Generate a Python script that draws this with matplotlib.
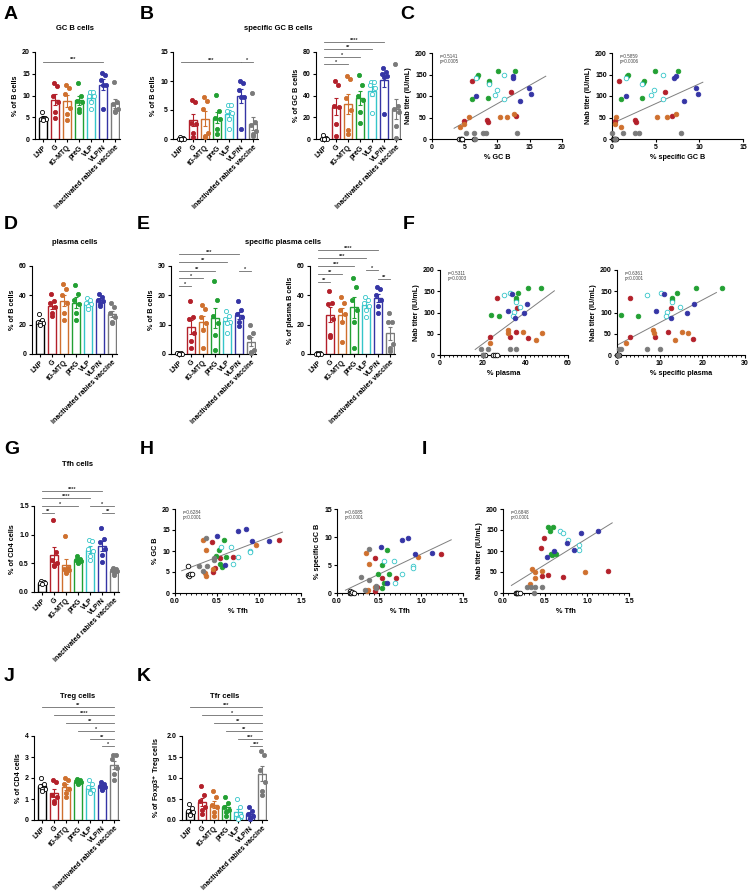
"""
Multi-panel B-cell / T-cell immunology figure (bars + correlations).
"""
import numpy as np
import matplotlib
matplotlib.use("Agg")
import matplotlib.pyplot as plt
from matplotlib.ticker import MultipleLocator, FormatStrFormatter

W, H = 750, 894

GROUPS = ["LNP", "G", "tG-MTQ", "preG", "VLP", "VLP/N", "inactivated rabies vaccine"]
COLORS = ["#000000", "#B3202A", "#CF702E", "#22A033", "#35C5C9", "#3535A5", "#7A7A7A"]
OPEN = [True, False, False, False, True, False, False]

# ── bar-panel data (one list of points per group, order = GROUPS) ──────────────
gcb_pct = [
    [6.3, 4.8, 4.7, 4.6, 4.5, 4.4],
    [12.8, 12.2, 9.8, 8.4, 6.3, 4.8],
    [12.5, 11.8, 10.3, 7.2, 5.8, 4.3],
    [12.8, 10.0, 8.8, 8.6, 6.9, 6.1],
    [10.9, 10.8, 10.0, 9.9, 8.6, 6.8],
    [15.2, 14.8, 13.5, 12.5, 12.3, 6.8],
    [13.1, 8.6, 8.0, 6.8, 6.5, 6.3],
]
sgcb_of_b = [
    [0.4, 0.1, 0.05, 0.0, 0.0, 0.0],
    [6.8, 6.3, 2.7, 2.6, 1.1, 0.3],
    [7.3, 6.5, 5.2, 1.0, 0.5, 0.4],
    [7.6, 4.9, 3.6, 3.4, 1.7, 0.9],
    [5.8, 5.8, 4.8, 4.5, 3.5, 1.8],
    [10.0, 9.7, 8.4, 7.3, 7.2, 1.7],
    [7.9, 2.9, 2.4, 1.3, 0.9, 0.5],
]
sgcb_of_gcb = [
    [4.0, 0.5, 0.3, 0.2, 0.0, 0.0],
    [53, 50, 30, 29, 14, 3],
    [58, 55, 38, 27, 8, 5],
    [59, 50, 40, 36, 25, 15],
    [52, 52, 50, 47, 41, 24],
    [65, 62, 60, 58, 57, 23],
    [69, 30, 28, 25, 12, 1],
]
plasma_pct = [
    [27, 23, 22, 21, 21, 20],
    [41, 36, 35, 32, 28, 26],
    [48, 44, 40, 35, 28, 23],
    [47, 41, 37, 34, 28, 23],
    [38, 37, 35, 34, 33, 31],
    [41, 39, 37, 36, 34, 33],
    [35, 32, 28, 25, 22, 21],
]
splasma_of_b = [
    [0.5, 0.3, 0.2, 0.1, 0.1, 0.0],
    [17.9, 12.6, 12.1, 7.0, 4.5, 2.0],
    [16.6, 15.4, 12.5, 10.5, 8.3, 2.0],
    [24.8, 18.3, 13.0, 10.5, 6.5, 1.2],
    [14.5, 13.0, 12.0, 11.0, 10.5, 7.0],
    [18.0, 15.0, 13.5, 12.5, 11.0, 9.5],
    [9.8, 7.2, 5.8, 1.2, 0.8, 0.5],
]
splasma_of_plasma = [
    [0.8, 0.5, 0.3, 0.2, 0.1, 0.0],
    [43, 35, 34, 24, 13, 11.5],
    [39, 35, 30, 27, 22, 8],
    [52, 46, 37, 30, 22, 4],
    [39, 37, 35, 33, 30, 25],
    [46, 44, 40, 37, 33, 28],
    [28, 22, 22, 7, 4, 2],
]
tfh_pct = [
    [0.19, 0.17, 0.16, 0.15, 0.14],
    [1.25, 0.70, 0.55, 0.50, 0.47, 0.45],
    [0.97, 0.42, 0.40, 0.38, 0.35, 0.33],
    [0.63, 0.58, 0.55, 0.54, 0.52, 0.50],
    [0.90, 0.89, 0.75, 0.72, 0.62, 0.55],
    [1.12, 0.93, 0.88, 0.75, 0.65, 0.52],
    [0.42, 0.40, 0.38, 0.36, 0.33, 0.30],
]
treg_pct = [
    [2.0, 1.7, 1.6, 1.5, 1.5, 1.4],
    [1.9, 1.8, 1.2, 1.1, 0.9, 0.8],
    [2.0, 1.9, 1.7, 1.5, 1.3, 1.1],
    [1.95, 1.9, 1.85, 1.8, 1.75, 1.7],
    [1.9, 1.7, 1.55, 1.45, 1.35, 1.3],
    [1.8, 1.7, 1.6, 1.55, 1.5, 1.45],
    [3.1, 3.1, 2.9, 2.5, 2.2, 1.9],
]
tfr_pct = [
    [0.38, 0.28, 0.22, 0.18, 0.15, 0.12],
    [0.8, 0.6, 0.45, 0.3, 0.25, 0.15],
    [0.7, 0.55, 0.35, 0.3, 0.2, 0.1],
    [0.55, 0.4, 0.3, 0.25, 0.2, 0.1],
    [0.5, 0.3, 0.15, 0.1, 0.05, 0.02],
    [0.3, 0.22, 0.15, 0.1, 0.05, 0.03],
    [1.65, 1.55, 1.2, 0.9, 0.7, 0.6],
]

# significance brackets: (group i, group j, height, label)
sig_gcb = [(0, 5, 17.8, "***")]
sig_sgcb_b = [(0, 5, 13.3, "***"), (5, 6, 13.3, "*")]
sig_sgcb_gcb = [(0, 5, 89, "****"), (0, 4, 82.8, "**"), (0, 3, 75.4, "*"), (0, 2, 69, "*")]
sig_splasma_b = [(0, 5, 34.1, "***"), (0, 4, 31.4, "**"), (0, 3, 28.3, "**"),
                 (0, 2, 25.9, "*"), (0, 1, 23.2, "*"), (5, 6, 28.3, "*")]
sig_splasma_p = [(0, 5, 70.9, "****"), (0, 4, 65.4, "***"), (0, 3, 60, "***"),
                 (0, 2, 54.5, "**"), (0, 1, 49, "**"), (4, 5, 57, "*"), (5, 6, 51, "**")]
sig_tfh = [(0, 5, 1.76, "****"), (0, 4, 1.64, "****"), (0, 3, 1.5, "*"),
           (0, 1, 1.38, "**"), (4, 6, 1.5, "*"), (5, 6, 1.38, "**")]
sig_treg = [(0, 6, 5.38, "**"), (1, 6, 5.0, "****"), (2, 6, 4.62, "**"),
            (3, 6, 4.24, "*"), (4, 6, 3.86, "**"), (5, 6, 3.52, "*")]
sig_tfr = [(0, 6, 2.69, "***"), (1, 6, 2.5, "*"), (2, 6, 2.31, "**"),
           (3, 6, 2.12, "**"), (4, 6, 1.93, "***"), (5, 6, 1.76, "***")]

# ── correlation data: per group (x values, y values), order = GROUPS ──────────
nab_vs_gcb = [
    ([4.1, 4.4, 4.5, 4.6, 6.5], [0, 0, 0, 0, 0]),
    ([6.1, 12.2, 8.5, 8.6, 4.9, 12.9], [134, 109, 44, 40, 42, 53]),
    ([4.3, 4.9, 5.7, 10.4, 11.6, 12.6], [29, 35, 52, 52, 52, 57]),
    ([7.0, 6.9, 10.1, 12.8, 8.8, 8.8, 6.2, 8.6], [148, 145, 158, 158, 134, 131, 92, 95]),
    ([6.8, 8.7, 10.0, 9.7, 11.1, 11.1], [142, 128, 114, 102, 148, 93]),
    ([6.8, 12.5, 12.4, 14.9, 15.2, 13.6], [101, 146, 143, 119, 104, 88]),
    ([5.2, 6.5, 7.9, 8.3, 13.1, 6.6], [15, 15, 15, 15, 15, 0]),
]
nab_vs_sgcb = [
    ([0.1, 0.2, 0.4, 0.5], [0, 0, 0, 0]),
    ([0.8, 6.1, 2.6, 2.7, 6.9, 0.3], [134, 109, 44, 40, 53, 42]),
    ([0.3, 0.5, 1.0, 5.1, 6.3, 7.3], [35, 52, 29, 51, 51, 57]),
    ([1.7, 1.8, 4.9, 7.6, 3.7, 3.6, 1.0, 3.4], [146, 148, 158, 158, 134, 131, 92, 95]),
    ([1.6, 3.4, 4.8, 4.5, 5.8, 5.8], [142, 128, 114, 102, 148, 93]),
    ([1.6, 7.1, 7.3, 9.6, 9.9, 8.3], [101, 143, 146, 119, 104, 88]),
    ([0.0, 1.3, 2.6, 3.1, 7.9, 0.3], [15, 15, 15, 15, 15, 0]),
]
nab_vs_plasma = [
    ([20.2, 21.0, 25.0, 25.8, 26.6], [0, 0, 0, 0, 0]),
    ([26.6, 36.0, 23.5, 32.6, 41.2, 35.7], [133, 110, 43, 43, 39, 53]),
    ([23.5, 32.1, 32.1, 38.9, 45.0, 47.8], [29, 59, 51, 53, 35, 51]),
    ([23.7, 27.7, 35.6, 35.6, 36.5, 41.2, 47.3], [93, 92, 134, 129, 147, 158, 158]),
    ([30.1, 32.9, 35.7, 37.3, 34.5, 34.2], [142, 147, 125, 114, 102, 92]),
    ([31.8, 33.9, 35.3, 39.2, 40.8], [104, 143, 88, 100, 119]),
    ([19.3, 22.4, 32.6, 35.4, 20.0], [15, 15, 15, 15, 0]),
]
nab_vs_splasma = [
    ([0.1, 0.2, 0.3, 0.5], [0, 0, 0, 0]),
    ([3.1, 12.6, 3.1, 12.0, 17.9, 9.0], [133, 110, 43, 53, 38, 42]),
    ([2.0, 8.5, 8.6, 15.3, 13.5, 16.7], [29, 59, 51, 53, 35, 51]),
    ([0.9, 5.0, 12.9, 13.0, 14.0, 18.6, 24.5], [93, 92, 134, 129, 147, 158, 158]),
    ([7.1, 10.3, 13.0, 14.7, 11.7, 11.4], [142, 147, 125, 114, 102, 92]),
    ([9.1, 11.0, 12.6, 16.3, 18.1], [104, 143, 88, 100, 119]),
    ([0.5, 0.9, 7.1, 10.0, 0.3], [15, 15, 15, 15, 0]),
]
gcb_vs_tfh = [
    ([0.15, 0.16, 0.17, 0.18, 0.2], [6.4, 4.4, 4.1, 4.6, 4.5]),
    ([0.44, 0.53, 0.69, 0.48, 0.45, 1.24], [12.1, 8.4, 8.5, 6.0, 4.9, 12.7]),
    ([0.33, 0.37, 0.96, 0.45, 0.37, 0.36], [12.6, 10.3, 11.5, 5.7, 4.1, 4.8]),
    ([0.58, 0.52, 0.49, 0.61, 0.54, 0.56], [12.7, 10.2, 8.8, 8.5, 6.9, 6.1]),
    ([0.55, 0.67, 0.89, 0.89, 0.75, 0.69], [11.0, 11.0, 9.9, 9.7, 8.5, 6.8]),
    ([0.5, 0.75, 0.84, 0.92, 1.12, 0.6], [13.5, 14.8, 15.2, 12.4, 12.5, 6.7]),
    ([0.37, 0.28, 0.38, 0.46, 0.33, 0.46], [13.1, 6.4, 6.4, 7.9, 5.2, 8.4]),
]
sgcb_vs_tfh = [
    ([0.15, 0.16, 0.17, 0.18, 0.2], [0.4, 0, 0, 0.1, 0]),
    ([0.45, 1.24, 0.54, 0.7, 0.48, 0.45], [6.2, 6.9, 2.7, 2.7, 1.1, 0.3]),
    ([0.34, 0.38, 0.97, 0.45, 0.37, 0.36], [7.2, 5.2, 6.4, 1.0, 0.5, 0.4]),
    ([0.59, 0.49, 0.62, 0.53, 0.56, 0.54], [7.7, 3.4, 3.4, 5.0, 1.7, 0.9]),
    ([0.56, 0.68, 0.9, 0.9, 0.77, 0.69], [5.8, 5.7, 4.8, 4.4, 3.4, 1.8]),
    ([0.52, 0.77, 0.85, 0.93, 1.13, 0.6], [8.3, 9.5, 9.8, 7.0, 7.2, 1.7]),
    ([0.38, 0.28, 0.38, 0.46, 0.33, 0.46], [7.9, 2.9, 2.4, 1.3, 0.5, 0.9]),
]
nab_vs_tfh = [
    ([0.15, 0.16, 0.17, 0.18, 0.2], [0, 0, 0, 0, 0]),
    ([0.49, 0.45, 0.46, 0.53, 0.71, 1.25], [132, 108, 41, 43, 38, 52]),
    ([0.34, 0.38, 0.46, 0.98, 0.38, 0.32], [57, 51, 52, 50, 35, 21]),
    ([0.53, 0.59, 0.56, 0.57, 0.63, 0.58], [158, 158, 148, 92, 94, 91]),
    ([0.68, 0.71, 0.77, 0.91, 0.91], [148, 142, 127, 114, 102]),
    ([0.52, 0.61, 0.76, 0.85, 0.93, 1.13], [85, 100, 118, 103, 142, 148]),
    ([0.28, 0.33, 0.38, 0.46, 0.37], [15, 15, 15, 15, 0]),
]

# regression line end points (x pair, y pair)
fit_gcb = ([3.4, 17.5], [25, 146])
fit_sgcb = ([0.1, 10.4], [37, 132])
fit_plasma = ([16.5, 53.6], [13, 151])
fit_splasma = ([0.2, 23.3], [24, 147])
fit_gcb_tfh = ([0.08, 1.28], [5.3, 14.5])
fit_sgcb_tfh = ([0.1, 1.36], [0.5, 9.5])
fit_nab_tfh = ([0.1, 1.3], [18, 167])

JITTER = np.array([-0.12, 0.12, -0.22, 0.22, 0.0, -0.05, 0.05, 0.15])

plt.rcParams["font.family"] = ["Liberation Sans", "DejaVu Sans"]
plt.rcParams["font.weight"] = "bold"
plt.rcParams["axes.labelweight"] = "bold"


def px_axes(fig, left, top, right, bottom):
    """Axes whose plotting box is given in figure pixels (top-left origin)."""
    return fig.add_axes([left / W, 1 - bottom / H, (right - left) / W, (bottom - top) / H])


def style_axes(ax):
    for s in ("top", "right"):
        ax.spines[s].set_visible(False)
    for s in ("left", "bottom"):
        ax.spines[s].set_linewidth(0.8)
    ax.tick_params(length=2.5, width=0.8, labelsize=5, pad=1.2)
    for t in ax.get_xticklabels() + ax.get_yticklabels():
        t.set_fontweight("bold")


def bar_panel(fig, box, pts, ymax, ystep, ylabel, sig, yfmt=None):
    ax = px_axes(fig, *box)
    for i, vals in enumerate(pts):
        vals = np.asarray(vals, float)
        m = vals.mean()
        se = vals.std(ddof=1) / np.sqrt(len(vals))
        c = COLORS[i]
        ax.bar(i, m, width=0.66, facecolor="white", edgecolor=c, linewidth=1.0, zorder=1)
        ax.errorbar(i, m, yerr=se, ecolor=c, elinewidth=0.8, capsize=1.6,
                    capthick=0.8, fmt="none", zorder=2)
        ax.scatter(i + JITTER[:len(vals)], vals, s=9,
                   facecolor="white" if OPEN[i] else c, edgecolor=c,
                   linewidth=0.6, zorder=3, clip_on=False)
    ax.set_xlim(-0.7, 6.4)
    ax.set_ylim(0, ymax)
    ax.yaxis.set_major_locator(MultipleLocator(ystep))
    if yfmt:
        ax.yaxis.set_major_formatter(FormatStrFormatter(yfmt))
    ax.set_xticks(range(len(GROUPS)))
    ax.set_xticklabels(GROUPS, rotation=45, ha="right", rotation_mode="anchor")
    ax.set_ylabel(ylabel, fontsize=5.2, labelpad=2)
    style_axes(ax)
    for i, j, lvl, txt in sig:
        ax.plot([i, j], [lvl, lvl], color="#6b6b6b", lw=0.6, clip_on=False)
        ax.annotate(txt, ((i + j) / 2, lvl), xytext=(0, -0.5), textcoords="offset points",
                    ha="center", va="bottom", fontsize=4, color="#333333",
                    annotation_clip=False)
    return ax


def scatter_panel(fig, box, data, fit, xmax, xstep, ymax, ystep, xlabel, ylabel,
                  stat, minor=None, xfmt=None):
    ax = px_axes(fig, *box)
    for i, (xs, ys) in enumerate(data):
        c = COLORS[i]
        ax.scatter(xs, ys, s=11, facecolor="white" if OPEN[i] else c,
                   edgecolor=c, linewidth=0.6, zorder=3, clip_on=False)
    ax.plot(fit[0], fit[1], color="#7f7f7f", lw=0.7, zorder=2)
    ax.set_xlim(0, xmax)
    ax.set_ylim(0, ymax)
    ax.xaxis.set_major_locator(MultipleLocator(xstep))
    ax.yaxis.set_major_locator(MultipleLocator(ystep))
    if minor:
        ax.xaxis.set_minor_locator(MultipleLocator(minor))
        ax.tick_params(axis="x", which="minor", length=1.5, width=0.6)
    if xfmt:
        ax.xaxis.set_major_formatter(FormatStrFormatter(xfmt))
    ax.set_xlabel(xlabel, fontsize=5.2, labelpad=2)
    ax.set_ylabel(ylabel, fontsize=5.2, labelpad=2)
    style_axes(ax)
    ax.text(0.06, 0.99, stat, transform=ax.transAxes, fontsize=3.3, fontweight="normal",
            color="#444444", va="top", ha="left", linespacing=1.1)
    return ax


fig = plt.figure(figsize=(W / 100, H / 100), dpi=100)

# panel letters
for letter, x, y in [("A", 4, 6), ("B", 140, 6), ("C", 400, 6),
                     ("D", 4, 216), ("E", 137, 216), ("F", 403, 216),
                     ("G", 4, 441), ("H", 140, 441), ("I", 422, 441),
                     ("J", 4, 668), ("K", 137, 668)]:
    fig.text(x / W, 1 - y / H, letter, fontsize=14, fontweight="bold", va="top", ha="left")

# panel titles
for title, x, y in [("GC B cells", 75, 29), ("specific GC B cells", 278, 29),
                    ("plasma cells", 75, 242), ("specific plasma cells", 283, 242),
                    ("Tfh cells", 78, 465), ("Treg cells", 78, 696), ("Tfr cells", 225, 696)]:
    fig.text(x / W, 1 - y / H, title, fontsize=5.5, fontweight="bold", va="center", ha="center")

# ── row 1 ──
bar_panel(fig, (35, 52, 120, 139), gcb_pct, 20, 5, "% of B cells", sig_gcb)
bar_panel(fig, (173, 52, 258, 139), sgcb_of_b, 15, 5, "% of B cells", sig_sgcb_b)
bar_panel(fig, (316, 52, 401, 139), sgcb_of_gcb, 80, 20, "% of GC B cells", sig_sgcb_gcb)
scatter_panel(fig, (432, 53, 562, 139), nab_vs_gcb, fit_gcb, 20, 5, 200, 50,
              "% GC B", "Nab titer (IU/mL)", "r=0.5141\np=0.0005")
scatter_panel(fig, (612, 53, 743, 139), nab_vs_sgcb, fit_sgcb, 15, 5, 200, 50,
              "% specific GC B", "Nab titer (IU/mL)", "r=0.5859\np=0.0006")

# ── row 2 ──
bar_panel(fig, (32, 266, 117, 354), plasma_pct, 60, 20, "% of B cells", [])
bar_panel(fig, (171, 266, 256, 354), splasma_of_b, 30, 10, "% of B cells", sig_splasma_b)
bar_panel(fig, (310, 266, 395, 354), splasma_of_plasma, 60, 20, "% of plasma B cells", sig_splasma_p)
scatter_panel(fig, (440, 270, 568, 355), nab_vs_plasma, fit_plasma, 60, 20, 200, 50,
              "% plasma", "Nab titer (IU/mL)", "r=0.5311\np=0.0003", minor=2)
scatter_panel(fig, (617, 270, 745, 355), nab_vs_splasma, fit_splasma, 30, 10, 200, 50,
              "% specific plasma", "Nab titer (IU/mL)", "r=0.6361\np<0.0001", minor=1)

# ── row 3 ──
bar_panel(fig, (34, 506, 119, 592), tfh_pct, 1.5, 0.5, "% of CD4 cells", sig_tfh, yfmt="%.1f")
scatter_panel(fig, (175, 509, 301, 593), gcb_vs_tfh, fit_gcb_tfh, 1.5, 0.5, 20, 5,
              "% Tfh", "% GC B", "r=0.6284\np<0.0001", minor=0.0625, xfmt="%.1f")
scatter_panel(fig, (337, 509, 463, 593), sgcb_vs_tfh, fit_sgcb_tfh, 1.5, 0.5, 15, 5,
              "% Tfh", "% specific GC B", "r=0.6085\np<0.0001", minor=0.0625, xfmt="%.1f")
scatter_panel(fig, (503, 509, 629, 593), nab_vs_tfh, fit_nab_tfh, 1.5, 0.5, 200, 50,
              "% Tfh", "Nab titer (IU/mL)", "r=0.6848\np<0.0001", minor=0.0625, xfmt="%.1f")

# ── row 4 ──
bar_panel(fig, (34, 736, 119, 820), treg_pct, 4, 1, "% of CD4 cells", sig_treg)
bar_panel(fig, (182, 736, 267, 820), tfr_pct, 2.0, 0.5, "% of Foxp3$^{+}$ Treg cells", sig_tfr, yfmt="%.1f")

fig.savefig("out.png", dpi=100)
